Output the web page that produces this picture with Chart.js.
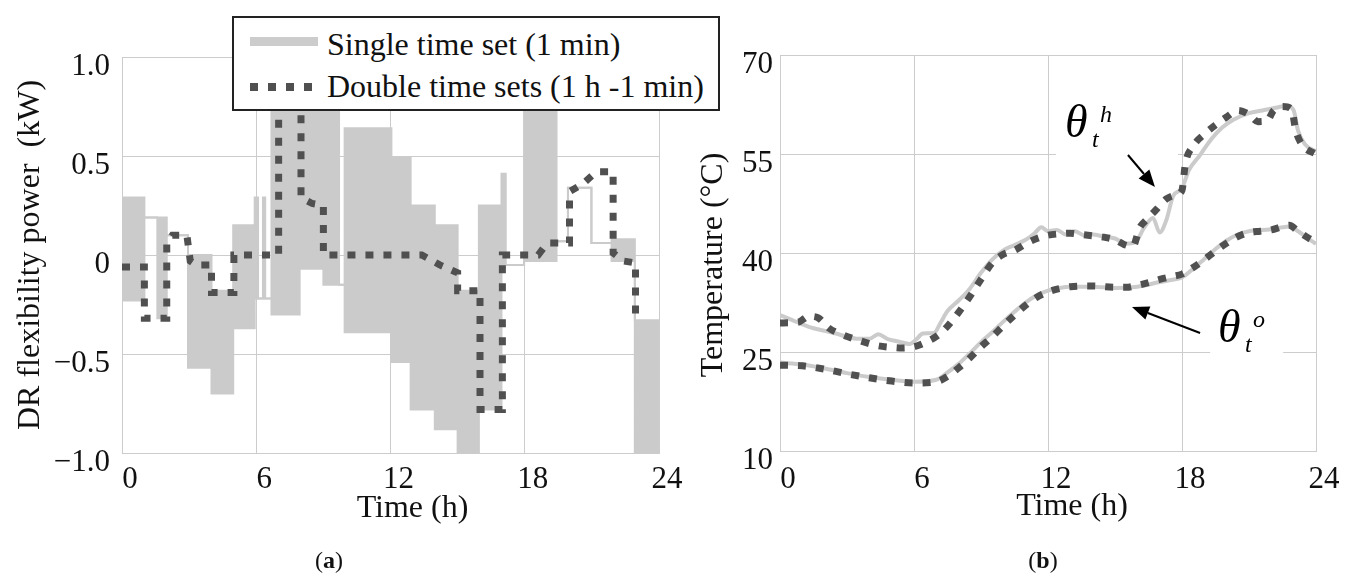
<!doctype html>
<html lang="en">
<head>
<meta charset="utf-8" />
<title>DR flexibility power and temperatures</title>
<script src="https://cdn.jsdelivr.net/npm/chart.js@4.4.4/dist/chart.umd.min.js"></script>
<style>
  html, body { margin: 0; padding: 0; background: #fff; }
  body { width: 1357px; height: 574px; position: relative; overflow: hidden; font-family: "Liberation Serif", "Times New Roman", serif; color: #111; }
  canvas { position: absolute; top: 0; }
  #power { left: 0; }
  #temp { left: 690px; }
  .legend { position: absolute; left: 232px; top: 16px; width: 484px; height: 91px; border: 2px solid #222; background: #fff; }
  .legend .swatch { position: absolute; left: 16px; }
  .legend .solid { top: 19px; width: 68px; height: 9px; background: #cccccc; }
  .legend .dotted { top: 65px; width: 71px; height: 8px; background: repeating-linear-gradient(90deg, #505050 0 8px, transparent 8px 18px); }
  .legend .text { position: absolute; left: 93px; font-size: 32px; line-height: 32px; white-space: nowrap; }
  .caption { position: absolute; top: 548px; font-size: 24px; line-height: 24px; transform: translateX(-50%); }
</style>
</head>
<body>
<canvas id="power" width="690" height="574"></canvas>
<canvas id="temp" width="667" height="574"></canvas>

<div class="legend">
  <div class="swatch solid"></div>
  <div class="text" style="top:10px">Single time set (1 min)</div>
  <div class="swatch dotted"></div>
  <div class="text" style="top:52px">Double time sets (1 h -1 min)</div>
</div>
<div class="caption" style="left:329px">(<b>a</b>)</div>
<div class="caption" style="left:1043px">(<b>b</b>)</div>

<script>
// ---- (a) DR flexibility power, kW ----
// the 1-min schedule flips fast between two levels, so it is kept as an upper/lower envelope per block
const singleTimes = [0, 1.0, 1.58, 2.0, 2.95, 4.0, 4.97, 5.93, 6.08, 6.3, 6.4, 6.68, 7.94, 9.0, 9.7, 9.95, 12.04, 12.9, 13.98, 15.0, 15.95, 16.96, 17.15, 17.97, 19.42, 19.93, 20.98, 21.88, 22.92, 24];
const singleUpper = [0.29, 0.19, 0.19, 0.10, 0.0, -0.18, 0.15, 0.29, -0.22, 0.29, -0.22, 0.80, 0.80, 0.80, -0.15, 0.64, 0.49, 0.25, 0.15, -0.18, 0.25, 0.41, -0.05, 0.80, 0.07, 0.34, 0.06, 0.08, -0.33, -0.33];
const singleLower = [-0.23, 0.19, -0.32, 0.10, -0.57, -0.70, -0.37, -0.22, -0.22, -0.22, -0.22, -0.30, -0.07, -0.15, -0.15, -0.39, -0.54, -0.78, -0.88, -1.0, -0.78, -0.05, -0.05, -0.03, 0.07, 0.34, 0.06, -0.03, -1.0, -1.0];

const doubleTimes = [0, 1, 1, 2, 2, 2.25, 2.9, 3.05, 3.3, 4, 4, 5, 5, 7, 7, 8, 8, 8.5, 9, 9, 13.4, 14.2, 15, 15, 16, 16, 17, 17, 18.6, 19, 20, 20, 20.6, 21.2, 21.95, 21.95, 22.4, 22.95, 22.95];
const doublePower = [-0.06, -0.06, -0.32, -0.32, 0.06, 0.10, 0.10, -0.03, -0.05, -0.05, -0.19, -0.19, 0, 0, 0.80, 0.80, 0.29, 0.26, 0.25, 0, 0, -0.05, -0.09, -0.18, -0.18, -0.78, -0.78, 0, 0, 0.06, 0.06, 0.32, 0.36, 0.42, 0.42, 0.01, -0.03, -0.04, -0.30];

const powerTicks = [-1, -0.5, 0, 0.5, 1];
const powerTickLabels = ["\u22121.0", "\u22120.5", "0", "0.5", "1.0"];

// ---- (b) temperatures, °C ----
const hotSingleTime = [0, 0.5, 1, 1.5, 2, 2.5, 3, 3.5, 4, 4.4, 4.8, 5.3, 5.8, 6.1, 6.4, 6.9, 7.2, 7.5, 8, 8.5, 9, 9.5, 10, 10.5, 11, 11.4, 11.7, 12, 12.4, 12.8, 13.2, 13.6, 14, 14.5, 15, 15.5, 15.9, 16.3, 16.7, 17.0, 17.3, 17.6, 18, 18.3, 18.8, 19.3, 19.8, 20.3, 21, 21.6, 22.2, 22.7, 23, 23.2, 23.5, 24];
const hotSingleTemp = [30.6, 29.9, 29.2, 28.6, 28.2, 27.8, 27.3, 27.0, 27.0, 27.7, 27.0, 26.6, 26.2, 26.9, 27.8, 27.9, 29.5, 31.2, 32.8, 34.6, 37.0, 39.0, 40.4, 41.2, 42.0, 43.0, 43.9, 43.3, 43.5, 42.8, 43.3, 42.7, 42.8, 42.5, 42.2, 41.4, 41.6, 43.8, 45.3, 43.1, 45.0, 48.6, 49.8, 52.5, 54.8, 57.2, 59.0, 60.2, 61.2, 61.6, 62.0, 62.3, 61.6, 58.5, 56.5, 55.4];
const hotDoubleTime = [0, 0.8, 1.3, 1.7, 2.2, 2.8, 3.5, 4.3, 5, 5.5, 6, 6.6, 7.1, 7.5, 8, 8.5, 9, 9.5, 10, 10.5, 11, 11.5, 12, 12.5, 13, 13.5, 14, 14.5, 15, 15.4, 15.8, 16.1, 16.4, 16.8, 17.3, 17.8, 18.0, 18.15, 18.5, 19, 19.5, 20, 20.5, 21, 21.4, 21.8, 22.1, 22.5, 22.9, 23.1, 23.4, 24];
const hotDoubleTemp = [29.4, 29.5, 30.4, 30.2, 28.6, 27.6, 26.8, 26.0, 25.7, 25.6, 25.8, 26.6, 27.6, 28.9, 31.0, 33.4, 36.0, 38.5, 39.8, 40.4, 41.4, 42.2, 42.7, 42.9, 43.0, 42.8, 42.6, 42.4, 42.0, 41.3, 41.0, 43.8, 45.0, 46.4, 48.2, 48.9, 49.5, 53.5, 56.2, 58.0, 59.4, 60.6, 61.6, 61.0, 59.9, 60.0, 61.6, 62.2, 61.8, 58.5, 56.3, 55.0];

const outSingleTime = [0, 1, 2, 3, 4, 5, 6, 7, 7.5, 8, 8.5, 9, 9.5, 10, 10.5, 11, 11.5, 12, 12.5, 13, 14, 15, 16, 17, 17.5, 18, 18.5, 19, 19.5, 20, 20.5, 21, 22, 22.5, 22.8, 23.2, 23.6, 24];
const outSingleTemp = [23.4, 23.1, 22.5, 21.8, 21.2, 20.8, 20.5, 20.8, 21.9, 23.2, 24.8, 26.5, 28.0, 29.6, 31.1, 32.5, 33.6, 34.3, 34.7, 34.9, 34.9, 34.7, 34.9, 35.6, 35.9, 36.3, 37.6, 39.1, 40.6, 41.9, 42.8, 43.3, 43.6, 43.9, 44.0, 43.3, 42.3, 41.4];
const outDoubleTime = [0, 1, 2, 3, 4, 5, 6, 7, 7.5, 8, 8.5, 9, 9.5, 10, 10.5, 11, 11.5, 12, 12.5, 13, 14, 15, 15.5, 16, 16.5, 17, 17.5, 18, 18.5, 19, 19.5, 20, 20.5, 21, 21.5, 22, 22.5, 22.8, 23.2, 23.6, 24];
const outDoubleTemp = [23.0, 22.9, 22.4, 21.7, 21.1, 20.6, 20.3, 20.5, 21.3, 22.6, 24.1, 25.8, 27.3, 29.0, 30.6, 32.1, 33.3, 34.1, 34.6, 34.9, 35.0, 34.8, 34.8, 35.1, 35.5, 36.0, 36.4, 36.8, 37.8, 39.0, 40.3, 41.5, 42.5, 43.1, 43.3, 43.5, 44.0, 44.2, 43.3, 42.4, 41.6];

const tempTicks = [10, 25, 40, 55, 70];
const hourTicks = [0, 6, 12, 18, 24];

// θ labels on (b): [hour, °C] anchors
const noteSup = ["h", "o"];
const noteAt = [[12.76, 57.6], [19.61, 26.5]];
const arrowFrom = [[15.58, 54.85], [18.81, 27.88]];
const arrowTo = [[16.79, 50.0], [15.76, 31.82]];
const gridGap = [[12.36, 17.82, 55], [19.26, 22.53, 25]];

const serif = "'Liberation Serif', 'Times New Roman', serif";
const GRID = "#cccccc";
const LIGHT = "#cbcbcb";
const DARK = "#505050";

const zip = (xs, ys) => xs.map((x, i) => ({ x, y: ys[i] }));
const setTicks = (values) => (scale) => { scale.ticks = values.map((value) => ({ value })); };
const fixSize = (size) => (scale) => {
  if (scale.isHorizontal()) scale.height = size;
  else scale.width = size;
};

const axisTitles = {
  id: "axisTitles",
  afterDraw(chart, args, opts) {
    const { ctx, chartArea: a } = chart;
    ctx.save();
    ctx.fillStyle = "#111";
    ctx.font = `32px ${serif}`;
    ctx.textAlign = "center";
    ctx.textBaseline = "alphabetic";
    ctx.fillText(opts.x.text, (a.left + a.right) / 2 + opts.x.dx, a.bottom + opts.x.dy);
    ctx.translate(a.left - opts.y.dx, (a.top + a.bottom) / 2 + opts.y.dy);
    ctx.rotate(-Math.PI / 2);
    ctx.fillText(opts.y.text, 0, 0);
    ctx.restore();
  },
};

const thetaNotes = {
  id: "thetaNotes",
  beforeDatasetsDraw(chart) {
    // label boxes in the original break the grid lines behind them
    const { ctx, scales: { x, y } } = chart;
    ctx.save();
    ctx.fillStyle = "#fff";
    gridGap.forEach(([h0, h1, t]) => {
      const x0 = x.getPixelForValue(h0);
      ctx.fillRect(x0, y.getPixelForValue(t) - 3, x.getPixelForValue(h1) - x0, 6);
    });
    ctx.restore();
  },
  afterDatasetsDraw(chart) {
    const { ctx, scales: { x, y } } = chart;
    ctx.save();
    ctx.fillStyle = "#000";
    ctx.strokeStyle = "#000";
    ctx.textBaseline = "alphabetic";
    noteSup.forEach((sup, i) => {
      const px = x.getPixelForValue(noteAt[i][0]);
      const py = y.getPixelForValue(noteAt[i][1]);
      ctx.font = `italic 46px ${serif}`;
      ctx.fillText("\u03b8", px, py);
      ctx.font = `italic 24px ${serif}`;
      ctx.fillText("t", px + 27, py + 10);
      ctx.fillText(sup, px + 35, py - 15);

      const x0 = x.getPixelForValue(arrowFrom[i][0]);
      const y0 = y.getPixelForValue(arrowFrom[i][1]);
      const x1 = x.getPixelForValue(arrowTo[i][0]);
      const y1 = y.getPixelForValue(arrowTo[i][1]);
      const ang = Math.atan2(y1 - y0, x1 - x0);
      const len = 17, half = 7;
      const bx = x1 - len * Math.cos(ang), by = y1 - len * Math.sin(ang);
      ctx.lineWidth = 2;
      ctx.beginPath();
      ctx.moveTo(x0, y0);
      ctx.lineTo(bx, by);
      ctx.stroke();
      ctx.beginPath();
      ctx.moveTo(x1, y1);
      ctx.lineTo(bx + half * Math.sin(ang), by - half * Math.cos(ang));
      ctx.lineTo(bx - half * Math.sin(ang), by + half * Math.cos(ang));
      ctx.closePath();
      ctx.fill();
    });
    ctx.restore();
  },
};

function axes(xTickPad, yTickPad, yWidth, yTicks, yLabel) {
  const tickFont = { family: serif, size: 31 };
  return {
    x: {
      type: "linear", min: 0, max: 24,
      afterBuildTicks: setTicks(hourTicks),
      afterFit: fixSize(60),
      grid: { color: GRID, drawTicks: false },
      border: { color: GRID },
      ticks: { font: tickFont, color: "#111", padding: xTickPad, labelOffset: 8, maxRotation: 0 },
    },
    y: {
      type: "linear", min: yTicks[0], max: yTicks[yTicks.length - 1],
      afterBuildTicks: setTicks(yTicks),
      afterFit: fixSize(yWidth),
      grid: { color: GRID, drawTicks: false },
      border: { color: GRID },
      ticks: { font: tickFont, color: "#111", padding: yTickPad, labelOffset: 10, callback: yLabel },
    },
  };
}

const common = {
  responsive: false,
  animation: false,
  events: [],
  elements: { point: { radius: 0 } },
};

new Chart(document.getElementById("power"), {
  type: "line",
  data: {
    datasets: [
      { label: "Double time sets (1 h -1 min)", data: zip(doubleTimes, doublePower), order: 0,
        borderColor: DARK, borderWidth: 7, borderDash: [8, 10], fill: false, tension: 0 },
      { label: "Single time set (1 min)", data: zip(singleTimes, singleUpper), order: 1,
        borderColor: LIGHT, backgroundColor: LIGHT, borderWidth: 2, stepped: true, fill: "+1" },
      { label: "Single time set (lower)", data: zip(singleTimes, singleLower), order: 2,
        borderColor: LIGHT, borderWidth: 2, stepped: true, fill: false },
    ],
  },
  options: {
    ...common,
    layout: { padding: { left: 0, top: 57, right: 31, bottom: 61 } },
    scales: axes(8, 12, 122, powerTicks, (v) => powerTickLabels[powerTicks.indexOf(v)]),
    plugins: {
      legend: { display: false },
      tooltip: { enabled: false },
      axisTitles: { x: { text: "Time (h)", dx: 22, dy: 64 }, y: { text: "DR flexibility power  (kW)", dx: 83, dy: 0 } },
    },
  },
  plugins: [axisTitles],
});

const tempLine = (data, dotted, order) => ({
  data, order, fill: false, cubicInterpolationMode: "monotone",
  borderColor: dotted ? DARK : LIGHT,
  borderWidth: dotted ? 7 : 4,
  borderDash: dotted ? [8, 10] : [],
});

new Chart(document.getElementById("temp"), {
  type: "line",
  data: {
    datasets: [
      tempLine(zip(hotDoubleTime, hotDoubleTemp), true, 0),
      tempLine(zip(outDoubleTime, outDoubleTemp), true, 1),
      tempLine(zip(hotSingleTime, hotSingleTemp), false, 2),
      tempLine(zip(outSingleTime, outSingleTemp), false, 3),
    ],
  },
  options: {
    ...common,
    layout: { padding: { left: 0, top: 55, right: 41, bottom: 63 } },
    scales: axes(10, 7, 90, tempTicks, (v) => String(v)),
    plugins: {
      legend: { display: false },
      tooltip: { enabled: false },
      axisTitles: { x: { text: "Time (h)", dx: 24, dy: 64 }, y: { text: "Temperature (\u00b0C)", dx: 58, dy: 12 } },
    },
  },
  plugins: [axisTitles, thetaNotes],
});
</script>
</body>
</html>
